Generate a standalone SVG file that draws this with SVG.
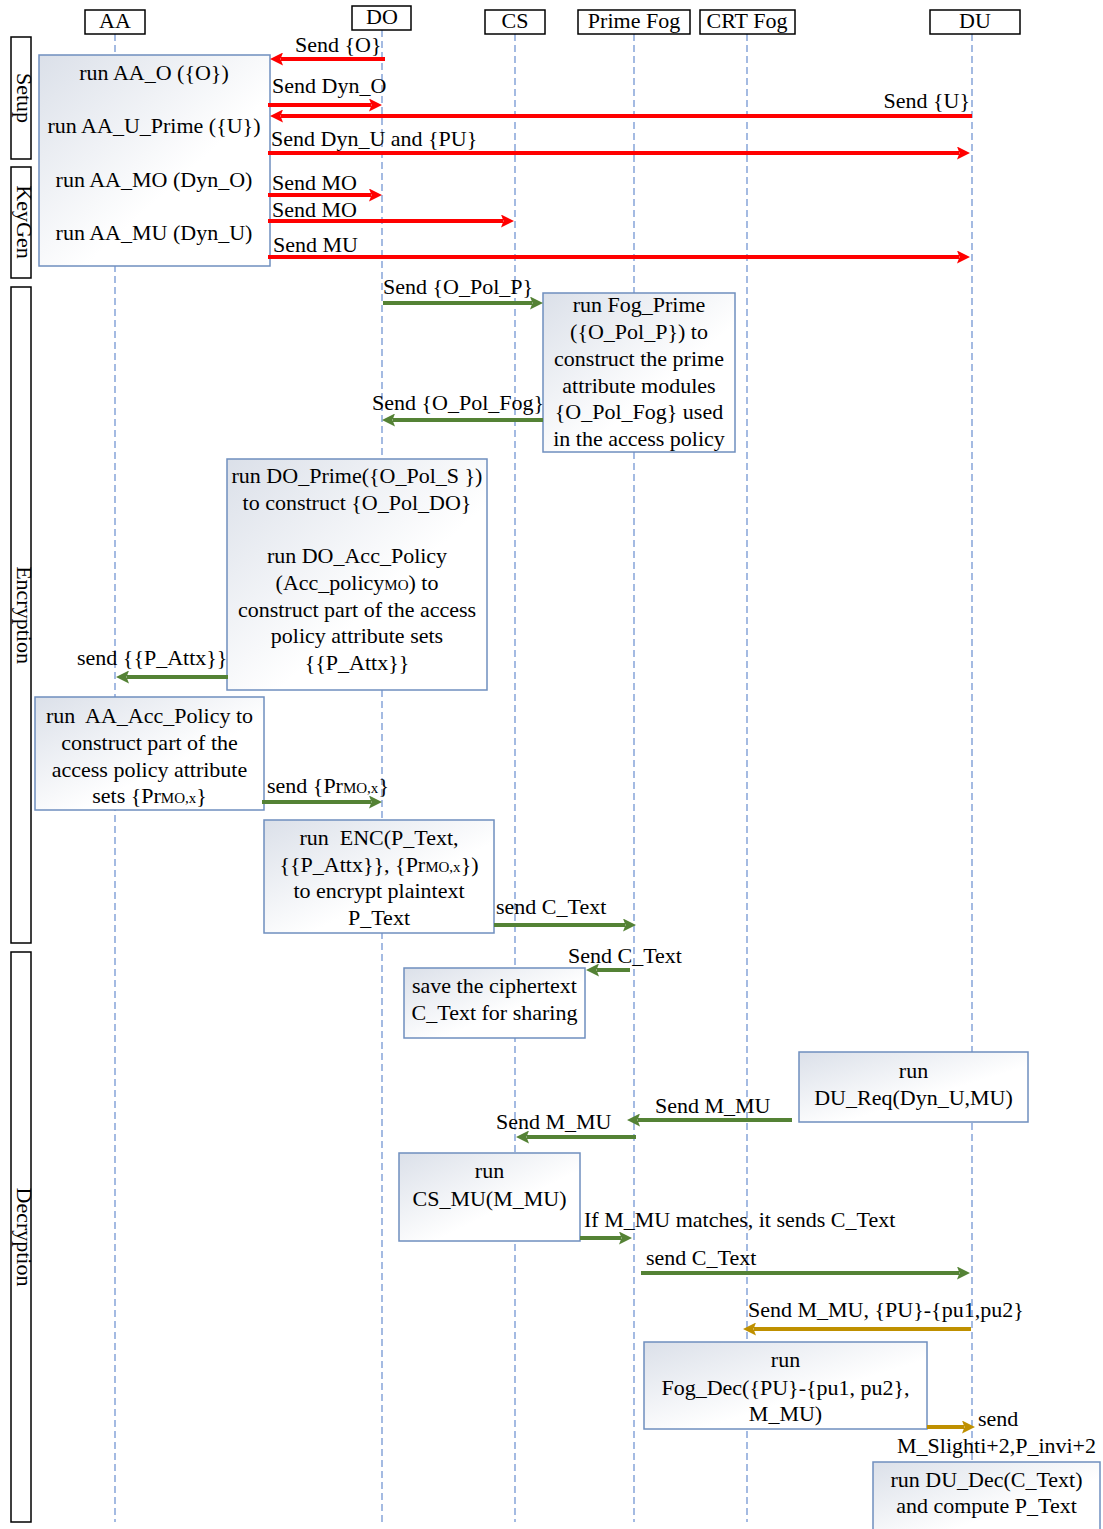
<svg xmlns="http://www.w3.org/2000/svg" width="1103" height="1529" viewBox="0 0 1103 1529">
<style>
text{font-family:"Liberation Serif","Times New Roman",serif;font-size:22px;fill:#000}
.c{text-anchor:middle}
.e{text-anchor:end}
.sub{font-size:15px}
.hdr{fill:#fff;stroke:#000;stroke-width:1.5}
.phase{fill:#fff;stroke:#000;stroke-width:1.5}
.life{stroke:#8eaadb;stroke-width:1.6;stroke-dasharray:7 4;fill:none}
.box{fill:url(#g);stroke:#6f8fbf;stroke-width:1.5}
.r{stroke:#ff0000;stroke-width:4;marker-end:url(#ar)}
.gr{stroke:#548235;stroke-width:4;marker-end:url(#ag)}
.y{stroke:#bf9000;stroke-width:4;marker-end:url(#ay)}
</style>
<defs>
<linearGradient id="g" x1="0" y1="0" x2="1" y2="1">
<stop offset="0" stop-color="#dbe0e9"/>
<stop offset="0.6" stop-color="#ffffff"/>
<stop offset="1" stop-color="#ffffff"/>
</linearGradient>
<marker id="ar" markerUnits="userSpaceOnUse" markerWidth="13" markerHeight="13" viewBox="0 0 13 13" refX="2" refY="6.5" orient="auto"><path d="M0,0 L13,6.5 L0,13 L2.5,6.5 Z" fill="#ff0000"/></marker>
<marker id="ag" markerUnits="userSpaceOnUse" markerWidth="13" markerHeight="13" viewBox="0 0 13 13" refX="2" refY="6.5" orient="auto"><path d="M0,0 L13,6.5 L0,13 L2.5,6.5 Z" fill="#548235"/></marker>
<marker id="ay" markerUnits="userSpaceOnUse" markerWidth="13" markerHeight="13" viewBox="0 0 13 13" refX="2" refY="6.5" orient="auto"><path d="M0,0 L13,6.5 L0,13 L2.5,6.5 Z" fill="#bf9000"/></marker>
</defs>
<rect width="1103" height="1529" fill="#fff"/>

<g id="lifelines">
<line class="life" x1="115" y1="34" x2="115" y2="1522"/>
<line class="life" x1="382" y1="30" x2="382" y2="1522"/>
<line class="life" x1="515" y1="34" x2="515" y2="1522"/>
<line class="life" x1="634" y1="34" x2="634" y2="1522"/>
<line class="life" x1="747" y1="34" x2="747" y2="1522"/>
<line class="life" x1="972" y1="34" x2="972" y2="1522"/>
</g>

<g id="actor-AA"><rect class="hdr" x="85" y="10" width="60" height="24"/><text class="c" x="115" y="27.5">AA</text></g>
<g id="actor-DO"><rect class="hdr" x="352" y="6" width="59" height="24"/><text class="c" x="382" y="24">DO</text></g>
<g id="actor-CS"><rect class="hdr" x="485" y="10" width="60" height="24"/><text class="c" x="515" y="27.5">CS</text></g>
<g id="actor-PrimeFog"><rect class="hdr" x="578" y="10" width="112" height="24"/><text class="c" x="634" y="27.5">Prime Fog</text></g>
<g id="actor-CRTFog"><rect class="hdr" x="700" y="10" width="95" height="24"/><text class="c" x="747" y="27.5">CRT Fog</text></g>
<g id="actor-DU"><rect class="hdr" x="930" y="10" width="90" height="24"/><text class="c" x="975" y="27.5">DU</text></g>

<g id="phase-setup"><rect class="phase" x="11" y="37" width="20" height="122"/><text class="c" transform="translate(16.5,98) rotate(90)">Setup</text></g>
<g id="phase-keygen"><rect class="phase" x="11" y="167" width="20" height="111"/><text class="c" transform="translate(16.5,222) rotate(90)">KeyGen</text></g>
<g id="phase-encryption"><rect class="phase" x="11" y="287" width="20" height="656"/><text class="c" transform="translate(16.5,615) rotate(90)">Encryption</text></g>
<g id="phase-decryption"><rect class="phase" x="11" y="952" width="20" height="570"/><text class="c" transform="translate(16.5,1237) rotate(90)">Decryption</text></g>

<g id="node-aa-setup">
<rect class="box" x="39" y="55" width="231" height="211"/>
<text class="c" x="154" y="80">run AA_O ({O})</text>
<text class="c" x="154" y="133">run AA_U_Prime ({U})</text>
<text class="c" x="154" y="187">run AA_MO (Dyn_O)</text>
<text class="c" x="154" y="240">run AA_MU (Dyn_U)</text>
</g>

<g id="node-fog-prime">
<rect class="box" x="543" y="293" width="192" height="159"/>
<text class="c" x="639" y="312">run Fog_Prime</text>
<text class="c" x="639" y="339">({O_Pol_P}) to</text>
<text class="c" x="639" y="366">construct the prime</text>
<text class="c" x="639" y="393">attribute modules</text>
<text class="c" x="639" y="419">{O_Pol_Fog} used</text>
<text class="c" x="639" y="446">in the access policy</text>
</g>

<g id="node-do-prime">
<rect class="box" x="227" y="459" width="260" height="231"/>
<text class="c" x="357" y="483">run DO_Prime({O_Pol_S })</text>
<text class="c" x="357" y="510">to construct {O_Pol_DO}</text>
<text class="c" x="357" y="563">run DO_Acc_Policy</text>
<text class="c" x="357" y="590">(Acc_policy<tspan class="sub">MO</tspan>) to</text>
<text class="c" x="357" y="617">construct part of the access</text>
<text class="c" x="357" y="643">policy attribute sets</text>
<text class="c" x="357" y="670">{{P_Attx}}</text>
</g>

<g id="node-aa-acc">
<rect class="box" x="35" y="697" width="229" height="113"/>
<text class="c" x="149.5" y="723" xml:space="preserve">run  AA_Acc_Policy to</text>
<text class="c" x="149.5" y="750">construct part of the</text>
<text class="c" x="149.5" y="777">access policy attribute</text>
<text class="c" x="149.5" y="803">sets {Pr<tspan class="sub">MO,x</tspan>}</text>
</g>

<g id="node-enc">
<rect class="box" x="264" y="820" width="230" height="113"/>
<text class="c" x="379" y="845" xml:space="preserve">run  ENC(P_Text,</text>
<text class="c" x="379" y="872">{{P_Attx}}, {Pr<tspan class="sub">MO,x</tspan>})</text>
<text class="c" x="379" y="898">to encrypt plaintext</text>
<text class="c" x="379" y="925">P_Text</text>
</g>

<g id="node-save">
<rect class="box" x="404" y="968" width="181" height="70"/>
<text class="c" x="494.5" y="993">save the ciphertext</text>
<text class="c" x="494.5" y="1020">C_Text for sharing</text>
</g>

<g id="node-du-req">
<rect class="box" x="799" y="1052" width="229" height="70"/>
<text class="c" x="913.5" y="1078">run</text>
<text class="c" x="913.5" y="1105">DU_Req(Dyn_U,MU)</text>
</g>

<g id="node-cs-mu">
<rect class="box" x="399" y="1153" width="181" height="88"/>
<text class="c" x="489.5" y="1178">run</text>
<text class="c" x="489.5" y="1206">CS_MU(M_MU)</text>
</g>

<g id="node-fog-dec">
<rect class="box" x="644" y="1342" width="283" height="87"/>
<text class="c" x="785.5" y="1367">run</text>
<text class="c" x="785.5" y="1395">Fog_Dec({PU}-{pu1, pu2},</text>
<text class="c" x="785.5" y="1421">M_MU)</text>
</g>

<g id="node-du-dec">
<rect class="box" x="873" y="1462" width="227" height="80"/>
<text class="c" x="986.5" y="1487">run DU_Dec(C_Text)</text>
<text class="c" x="986.5" y="1513">and compute P_Text</text>
</g>

<g id="connectors">
<line class="r" x1="385" y1="59" x2="281" y2="59"/>
<line class="r" x1="268" y1="105" x2="371" y2="105"/>
<line class="r" x1="972" y1="116" x2="281" y2="116"/>
<line class="r" x1="268" y1="153" x2="959" y2="153"/>
<line class="r" x1="268" y1="195" x2="371" y2="195"/>
<line class="r" x1="268" y1="221" x2="503" y2="221"/>
<line class="r" x1="268" y1="257" x2="959" y2="257"/>

<line class="gr" x1="383" y1="303" x2="532" y2="303"/>
<line class="gr" x1="543" y1="420" x2="393" y2="420"/>
<line class="gr" x1="228" y1="677" x2="127" y2="677"/>
<line class="gr" x1="262" y1="802" x2="371" y2="802"/>
<line class="gr" x1="494" y1="925" x2="625" y2="925"/>
<line class="gr" x1="630" y1="970" x2="597" y2="970"/>
<line class="gr" x1="792" y1="1120" x2="638" y2="1120"/>
<line class="gr" x1="636" y1="1137" x2="527" y2="1137"/>
<line class="gr" x1="580" y1="1238" x2="621" y2="1238"/>
<line class="gr" x1="641" y1="1273" x2="959" y2="1273"/>

<line class="y" x1="971" y1="1329" x2="754" y2="1329"/>
<line class="y" x1="927" y1="1427" x2="964" y2="1427"/>

<text x="295" y="52">Send {O}</text>
<text x="272" y="93">Send Dyn_O</text>
<text class="e" x="970" y="108">Send {U}</text>
<text x="271" y="146">Send Dyn_U and {PU}</text>
<text x="272" y="190">Send MO</text>
<text x="272" y="217">Send MO</text>
<text x="273" y="252">Send MU</text>

<text x="383" y="294">Send {O_Pol_P}</text>
<text x="372" y="410">Send {O_Pol_Fog}</text>
<text x="77" y="665">send {{P_Attx}}</text>
<text x="267" y="793">send {Pr<tspan class="sub">MO,x</tspan>}</text>
<text x="496" y="914">send C_Text</text>
<text x="568" y="963">Send C_Text</text>
<text x="655" y="1113">Send M_MU</text>
<text x="496" y="1129">Send M_MU</text>
<text x="584" y="1227">If M_MU matches, it sends C_Text</text>
<text x="646" y="1265">send C_Text</text>
<text x="748" y="1317">Send M_MU, {PU}-{pu1,pu2}</text>
<text x="978" y="1426">send</text>
<text x="897" y="1453">M_Slighti+2,P_invi+2</text>
</g>
</svg>
